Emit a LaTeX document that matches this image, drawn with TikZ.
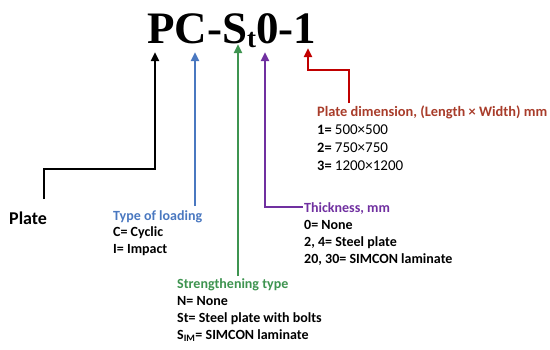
\documentclass[tikz,border=0pt]{standalone}
\usepackage{fontspec}
\setmainfont{Carlito}
\newfontfamily\titlefont{Liberation Serif}
\usetikzlibrary{arrows.meta}
\definecolor{cblue}{HTML}{4A78C0}
\definecolor{cgreen}{HTML}{3E9450}
\definecolor{cpurple}{HTML}{7030A0}
\definecolor{cdred}{HTML}{C00000}
\definecolor{cred}{HTML}{FF0000}
\definecolor{ctxt}{HTML}{A83C2A}
\tikzset{
  conn/.style={line width=2.6pt, line join=miter, -{Triangle[length=9pt,width=8pt]}},
  lbl/.style={anchor=base west, inner sep=0pt, align=left},
}
\begin{document}
\begin{tikzpicture}[x=1pt,y=-1pt]
\useasboundingbox (0,0) rectangle (550,349);
% title
\node[anchor=base west, inner sep=0pt, font=\titlefont\bfseries\fontsize{45}{45}\selectfont] (title) at (147,43)
  {PC-S\raisebox{-4pt}{\fontsize{27}{27}\selectfont t}0-1};
% tip coordinates
\coordinate (tP) at (155,52);
\coordinate (tC) at (195,52);
\coordinate (tS) at (238,44);
\coordinate (tT) at (265,52);
\coordinate (tD) at (308,48);
% labels (anchored at the baseline of the last line)
\node[anchor=base west, inner sep=0pt, font=\fontsize{18}{20}\selectfont\bfseries] (plate) at (9,224) {Plate};
\node[lbl, font=\fontsize{14}{16.5}\selectfont\bfseries] (load) at (113,253)
  {\textcolor{cblue}{Type of loading}\\C= Cyclic\\I= Impact};
\node[lbl, font=\fontsize{14}{16.7}\selectfont\bfseries] (streng) at (177,339)
  {\textcolor{cgreen}{Strengthening type}\\N= None\\St= Steel plate with bolts\\S\textsubscript{IM}= SIMCON laminate};
\node[lbl, font=\fontsize{14}{17}\selectfont\bfseries] (thick) at (304,263)
  {\textcolor{cpurple}{Thickness, mm}\\0= None\\2, 4= Steel plate\\20, 30= SIMCON laminate};
\node[lbl, font=\fontsize{14.4}{18}\selectfont\bfseries] (dim) at (317,170)
  {\textcolor{ctxt}{Plate dimension, (Length × Width) mm}\\1= {\mdseries\fontsize{15}{18}\selectfont 500×500}\\2= {\mdseries\fontsize{15}{18}\selectfont 750×750}\\3= {\mdseries\fontsize{15}{18}\selectfont 1200×1200}};
% corner coordinates
\coordinate (p0) at (44,199);
\coordinate (c0) at (195,206);
\coordinate (s0) at (238,276);
\coordinate (k0) at (303,207);
\coordinate (d0) at (349,103);
% connectors
\draw[conn, black] (p0) |- (155,169) -- (tP);
\draw[conn, cblue] (c0) -- (tC);
\draw[conn, cgreen] (s0) -- (tS);
\draw[conn, cpurple] (k0) -| (tT);
\draw[conn, cdred, -{Triangle[length=9pt,width=8pt,fill=cred]}] (d0) |- (308,70) -- (tD);
\end{tikzpicture}
\end{document}
